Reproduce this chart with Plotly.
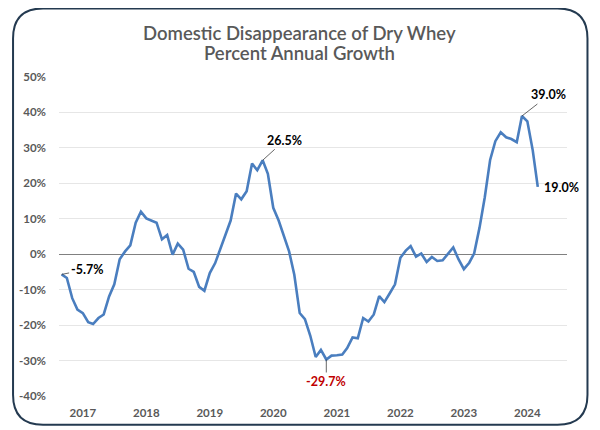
import pandas as pd
import plotly.graph_objects as go

# monthly year-over-year growth, Sep 2016 .. Mar 2024 (%)
months = pd.date_range("2016-09-01", periods=91, freq="MS")
growth = [
    -5.7, -6.7, -12.4, -15.6, -16.6, -19.2, -19.7, -18.0, -17.0, -11.9,
    -8.5, -1.4, 0.8, 2.5, 8.9, 12.0, 10.1, 9.5, 8.9, 4.2,
    5.4, -0.1, 3.0, 1.3, -4.1, -5.0, -9.2, -10.3, -5.3, -2.5,
    1.3, 5.6, 9.5, 17.1, 15.5, 17.8, 25.6, 23.7, 26.5, 22.7,
    13.1, 9.5, 5.2, 0.8, -5.8, -16.6, -18.3, -23.0, -29.0, -27.0,
    -29.7, -28.6, -28.5, -28.3, -26.5, -23.5, -23.7, -18.0, -19.0, -17.0,
    -11.8, -13.5, -11.0, -8.5, -1.0, 1.0, 2.3, -0.7, 0.2, -2.2,
    -0.8, -1.9, -1.7, 0.0, 1.9, -1.4, -4.2, -2.4, 0.2, 7.5,
    16.0, 26.6, 31.9, 34.4, 33.0, 32.5, 31.6, 39.0, 37.5, 29.3,
    19.0,
]
year_ticks = ["2017-01-01", "2018-01-01", "2019-01-01", "2020-01-01",
              "2021-01-01", "2022-01-01", "2023-01-01", "2024-01-01"]
year_labels = ["2017", "2018", "2019", "2020", "2021", "2022", "2023", "2024"]
y_ticks = [-40, -30, -20, -10, 0, 10, 20, 30, 40, 50]
y_labels = [f"{v}%" for v in y_ticks]
title_lines = ["Domestic Disappearance of Dry Whey", "Percent Annual Growth"]

# page body has an 8px margin, so the figure sits at (8, 8) in the window
OFF = 8
W, H = 600 - OFF, 430 - OFF
L, R, T, B = 58.5 - OFF, 33, 77 - OFF, 34.3
pw, ph = W - L - R, H - T - B

def px(x, y):
    # window pixel -> paper coordinates
    x, y = x - OFF, y - OFF
    return (x - L) / pw, (H - B - y) / ph

fig = go.Figure()
fig.add_trace(go.Scatter(
    x=months, y=growth, mode="lines",
    line=dict(color="#4a7ebf", width=2.6),
    hoverinfo="skip",
))

grey = "#595959"
fig.update_layout(
    width=W, height=H,
    margin=dict(l=L, r=R, t=T, b=B),
    paper_bgcolor="white", plot_bgcolor="white",
    showlegend=False,
    font=dict(family="Lato", color=grey),
)
fig.update_xaxes(
    range=["2016-08-17", "2024-08-16"],
    tickvals=year_ticks, ticktext=year_labels,
    showgrid=False, showline=False, zeroline=False,
    ticklabelstandoff=8,
    tickfont=dict(family="Lato", size=11.5, color=grey, weight="bold"),
)
fig.update_yaxes(
    range=[-40, 50],
    tickvals=y_ticks, ticktext=y_labels,
    showgrid=True, gridcolor="#e6e6e6", gridwidth=1,
    zeroline=True, zerolinecolor="#808080", zerolinewidth=1.3,
    showline=False,
    ticklabelstandoff=12,
    tickfont=dict(family="Lato", size=11.5, color=grey, weight="bold"),
)

# two-line title
for txt, yc in zip(title_lines, [33, 53]):
    tx, ty = px(299, yc)
    fig.add_annotation(x=tx, y=ty, xref="paper", yref="paper", text=txt,
                       showarrow=False, xanchor="center", yanchor="middle",
                       font=dict(family="Lato", size=18.5, color=grey, weight=600))

lab = dict(family="Lato", size=12.5, color="black", weight="bold")
arrow = dict(showarrow=True, arrowhead=0, arrowwidth=0.8, arrowcolor="#404040")

fig.add_annotation(x=months[0], y=growth[0], text="-5.7%", ax=25, ay=-5,
                   font=lab, **arrow)
fig.add_annotation(x=months[38], y=growth[38], text="26.5%", ax=22, ay=-20,
                   font=lab, **arrow)
fig.add_annotation(x=months[87], y=growth[87], text="39.0%", ax=27, ay=-21,
                   font=lab, **arrow)
fig.add_annotation(x=months[50], y=growth[50], text="-29.7%", ax=0, ay=22,
                   font=dict(lab, color="#c00000"), **arrow)
fig.add_annotation(x=months[90], y=growth[90], text="19.0%", showarrow=False,
                   xanchor="center", xshift=24, yshift=-1, font=lab)

# rounded frame around the whole chart (window pixels)
x0, y0, x1, y1, r = 12.5, 8.5, 587.5, 424.5, 30
pts = [
    ("M", (x0 + r, y0)), ("L", (x1 - r, y0)), ("Q", (x1, y0), (x1, y0 + r)),
    ("L", (x1, y1 - r)), ("Q", (x1, y1), (x1 - r, y1)),
    ("L", (x0 + r, y1)), ("Q", (x0, y1), (x0, y1 - r)),
    ("L", (x0, y0 + r)), ("Q", (x0, y0), (x0 + r, y0)),
]
path = ""
for cmd, *cs in pts:
    path += cmd + " " + " ".join("%.5f,%.5f" % px(*c) for c in cs) + " "
path += "Z"
fig.add_shape(type="path", path=path, xref="paper", yref="paper",
              line=dict(color="#243a50", width=2), layer="above")

fig.write_html("out.html")
